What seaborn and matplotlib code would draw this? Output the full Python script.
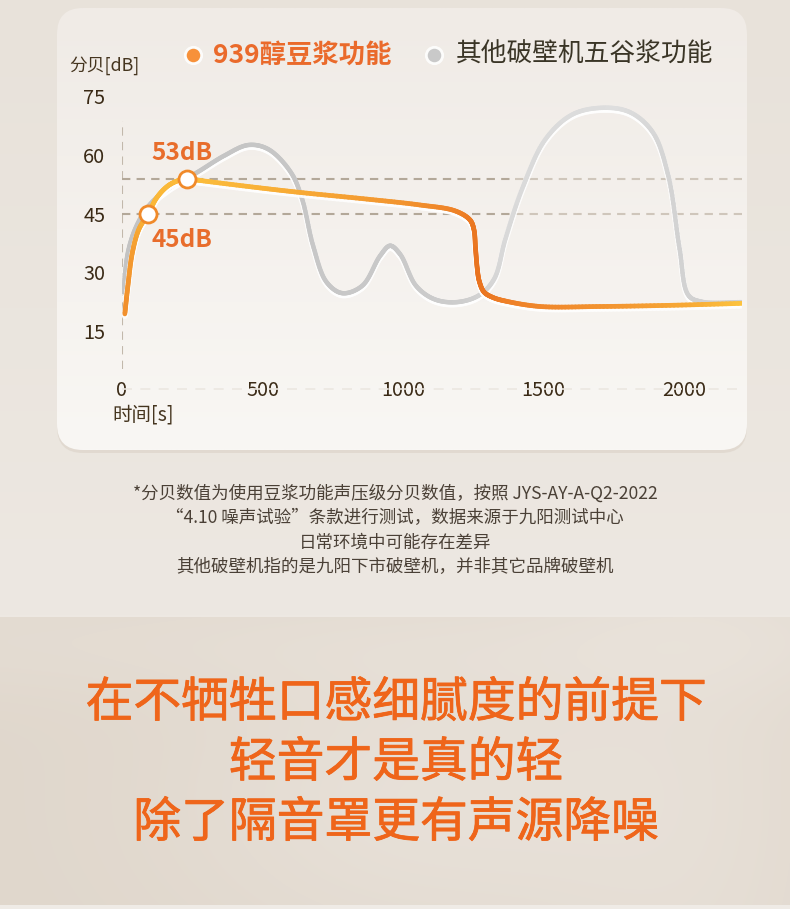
import numpy as np
import matplotlib
matplotlib.use("Agg")
import matplotlib.pyplot as plt
import seaborn as sns
import pandas as pd
from matplotlib.collections import LineCollection
from matplotlib.colors import LinearSegmentedColormap, to_rgb
from matplotlib.patches import FancyBboxPatch
import matplotlib.patheffects as pe

sns.set_theme(style="white")
plt.rcParams['font.family'] = ['Noto Sans CJK SC', 'DejaVu Sans']

# ---------------- data ----------------
series_names = ["939醇豆浆功能", "其他破壁机五谷浆功能"]

time_939 = [10, 21, 37, 60, 92, 124, 164, 203, 232, 283, 474, 633, 871, 1060,
            1185, 1238, 1252, 1258, 1264, 1271, 1288, 1320, 1370, 1488, 1700, 1950, 2207]
db_939 = [19.4, 26.6, 35.1, 41.0, 44.8, 49.1, 52.1, 53.5, 53.9, 53.4, 51.7, 50.4,
          48.7, 47.2, 45.7, 43.4, 41.0, 36.0, 31.0, 27.8, 25.0, 23.6, 22.6, 21.3,
          21.3, 21.6, 22.1]

time_other = [5, 21, 52, 100, 172, 267, 362, 450, 521, 601, 641, 680, 728, 784,
              855, 919, 954, 990, 1046, 1110, 1189, 1269, 1324, 1364, 1428, 1507,
              1603, 1714, 1809, 1889, 1944, 1984, 2016, 2064, 2207]
db_other = [24.9, 35.1, 41.9, 47.4, 51.7, 55.5, 59.7, 62.5, 61.4, 55.5, 48.7, 36.8,
            27.5, 24.7, 26.6, 34.3, 36.8, 34.6, 26.6, 23.2, 22.4, 24.1, 28.3, 38.5,
            52.1, 64.0, 70.3, 72.0, 70.8, 65.7, 54.6, 36.0, 24.1, 22.5, 22.4]

marker_time = [92, 232]
marker_db = [45, 53.8]
marker_labels = ["45dB", "53dB"]

x_ticks = [0, 500, 1000, 1500, 2000]
x_ticklabels = ["0", "500", "1000", "1500", "2000"]
y_ticks = [15, 30, 45, 60, 75]
y_ticklabels = ["15", "30", "45", "60", "75"]
y_label = "分贝[dB]"
x_label = "时间[s]"

footnote_lines = [
    "*分贝数值为使用豆浆功能声压级分贝数值，按照 JYS-AY-A-Q2-2022",
    "“4.10 噪声试验”条款进行测试，数据来源于九阳测试中心",
    "日常环境中可能存在差异",
    "其他破壁机指的是九阳下市破壁机，并非其它品牌破壁机",
]
slogan_lines = ["在不牺牲口感细腻度的前提下", "轻音才是真的轻", "除了隔音罩更有声源降噪"]

# ---------------- helpers ----------------
def hex_rgb(h):
    return np.array(to_rgb(h))

def smooth_path(x, y, sx=0.281, sy=3.92, n=18):
    """centripetal Catmull-Rom through the read points (drawn smooth like the original)"""
    P = np.column_stack([np.asarray(x, float) * sx, np.asarray(y, float) * sy])
    P = np.vstack([2 * P[0] - P[1], P, 2 * P[-1] - P[-2]])
    out = []
    for i in range(1, len(P) - 2):
        p0, p1, p2, p3 = P[i - 1], P[i], P[i + 1], P[i + 2]
        t0 = 0.0
        t1 = t0 + max(np.linalg.norm(p1 - p0), 1e-6) ** 0.5
        t2 = t1 + max(np.linalg.norm(p2 - p1), 1e-6) ** 0.5
        t3 = t2 + max(np.linalg.norm(p3 - p2), 1e-6) ** 0.5
        t = np.linspace(t1, t2, n, endpoint=False)[:, None]
        A1 = (t1 - t) / (t1 - t0) * p0 + (t - t0) / (t1 - t0) * p1
        A2 = (t2 - t) / (t2 - t1) * p1 + (t - t1) / (t2 - t1) * p2
        A3 = (t3 - t) / (t3 - t2) * p2 + (t - t2) / (t3 - t2) * p3
        B1 = (t2 - t) / (t2 - t0) * A1 + (t - t0) / (t2 - t0) * A2
        B2 = (t3 - t) / (t3 - t1) * A2 + (t - t1) / (t3 - t1) * A3
        C = (t2 - t) / (t2 - t1) * B1 + (t - t1) / (t2 - t1) * B2
        out.append(C)
    out.append(P[-2][None])
    Q = np.vstack(out)
    return Q[:, 0] / sx, Q[:, 1] / sy

def gradient_line(ax, xs, ys, cmap, xmax, lw, z, glow=True):
    pts = np.column_stack([xs, ys]).reshape(-1, 1, 2)
    segs = np.concatenate([pts[:-1], pts[1:]], axis=1)
    mids = (xs[:-1] + xs[1:]) / 2 / xmax
    lc = LineCollection(segs, colors=cmap(np.clip(mids, 0, 1)), linewidths=lw,
                        capstyle='round', joinstyle='round', zorder=z)
    if glow:
        lc.set_path_effects([pe.SimpleLineShadow(offset=(0, -1.6), shadow_color='white',
                                                 alpha=0.65, linewidth=lw * 1.3),
                             pe.Normal()])
    ax.add_collection(lc)

# ---------------- figure & background ----------------
W, H = 790, 909
fig = plt.figure(figsize=(W / 100, H / 100), dpi=100)
bg = fig.add_axes([0, 0, 1, 1])
bg.set_xlim(0, W)
bg.set_ylim(H, 0)
bg.axis('off')

img = np.zeros((H, W, 3))
rows = np.arange(H)[:, None]
cols = np.arange(W)[None, :]
top_c = hex_rgb('#e8e2da')
mid_c = hex_rgb('#ede8e2')
tfrac = np.clip(rows / 615.0, 0, 1)[..., None]
img[:] = top_c * (1 - tfrac) + mid_c * tfrac
band = (rows >= 617) & (rows < 905)
band_base = hex_rgb('#e0d7cc')
band_light = hex_rgb('#ece6df')
light = (0.6 * np.exp(-((cols - 430) / 260.0) ** 2) * np.exp(-((rows - 800) / 160.0) ** 2)
         + 0.35 * np.exp(-((cols - 700) / 160.0) ** 2)
         + 0.3 * np.exp(-((rows - 640) / 60.0) ** 2))
light = np.clip(light, 0, 1)[..., None]
band_img = band_base * (1 - light) + band_light * light
img = np.where(band[..., None], band_img, img)
img[905:] = hex_rgb('#efebe6')
bg.imshow(img, extent=(0, W, H, 0), aspect='auto', zorder=0, interpolation='bilinear')

# card shadow + card
shadow = FancyBboxPatch((57, 11), 690, 442, boxstyle="round,pad=0,rounding_size=26",
                        facecolor='#d9d0c5', edgecolor='none', alpha=0.55, zorder=1)
bg.add_patch(shadow)
card = FancyBboxPatch((57, 8), 690, 442, boxstyle="round,pad=0,rounding_size=26",
                      facecolor='none', edgecolor='none', zorder=2)
bg.add_patch(card)
cg = np.linspace(0, 1, 200)[:, None, None]
card_img = hex_rgb('#f0ebe6') * (1 - cg) + hex_rgb('#f9f7f4') * cg
card_img = np.repeat(card_img, 2, axis=1)
ci = bg.imshow(card_img, extent=(57, 747, 450, 8), aspect='auto', zorder=2,
               interpolation='bilinear')
ci.set_clip_path(card)

# ---------------- legend ----------------
bg.scatter([193], [55], s=190, color='white', alpha=0.85, zorder=5, linewidths=0)
bg.scatter([193], [55], s=95, color='#f7913a', zorder=6, linewidths=0)
bg.text(213, 55, series_names[0], color='#ea6a2b', fontsize=19, fontweight='bold',
        va='center', ha='left', zorder=6)
bg.scatter([434], [55], s=190, color='white', alpha=0.85, zorder=5, linewidths=0)
bg.scatter([434], [55], s=95, color='#c9c9c9', zorder=6, linewidths=0)
bg.text(456, 55, series_names[1], color='#3a3526', fontsize=18.5,
        va='center', ha='left', zorder=6)

bg.text(69, 66, y_label, color='#45351f', fontsize=12.8, va='center', ha='left', zorder=6)
bg.text(112, 415, x_label, color='#45351f', fontsize=14, va='center', ha='left', zorder=6)

# ---------------- chart axes ----------------
XMAX = 2206
ax_bottom_px = 390
ax_top_px = 96
ax = fig.add_axes([122 / W, 1 - ax_bottom_px / H, 620 / W, (ax_bottom_px - ax_top_px) / H])
ax.set_facecolor('none')
ax.set_xlim(0, XMAX)
ax.set_ylim(0, 75)
for s in ax.spines.values():
    s.set_visible(False)
ax.axhline(0.3, color='#ece7e1', lw=1.2, dashes=(6, 5), zorder=1)
ax.set_xticks(x_ticks)
ax.set_xticklabels(x_ticklabels)
ax.set_yticks(y_ticks)
ax.set_yticklabels(y_ticklabels)
ax.tick_params(axis='both', length=0, labelsize=14.3, labelcolor='#3a2a16')
ax.tick_params(axis='y', pad=12)
ax.tick_params(axis='x', pad=0)
for lab in ax.get_xticklabels():
    lab.set_verticalalignment('center')
ax.grid(False)

# reference dashed lines
ax.vlines(0, 5.4, 68.6, colors='#c2b8ab', linewidth=1.5, linestyles=(0, (4, 3)), zorder=2)
ax.hlines([marker_db[1], marker_db[0]], 0, 1400, colors='#b3a899', linewidth=1.5,
          linestyles=(0, (4, 3)), zorder=2)
ax.hlines([marker_db[1], marker_db[0]], 1400, XMAX, colors='#cfc6bb', linewidth=1.5,
          linestyles=(0, (4, 3)), zorder=2)

# gray series
gx, gy = smooth_path(time_other, db_other)
gray_cmap = LinearSegmentedColormap.from_list('g', [
    (0.0, '#c3c3c3'), (0.4, '#c8c8c8'), (0.55, '#cdcdcd'), (0.62, '#d9d9d9'),
    (0.8, '#dedede'), (0.9, '#d2d2d2'), (1.0, '#d0d0d0')])
gradient_line(ax, gx, gy, gray_cmap, XMAX, 3.2, 3)

# orange series
ox, oy = smooth_path(time_939, db_939)
orange_cmap = LinearSegmentedColormap.from_list('o', [
    (0.0, '#f08c2c'), (0.04, '#fab637'), (0.12, '#fbbd3c'), (0.3, '#f7a834'),
    (0.45, '#f29530'), (0.55, '#ee8127'), (0.575, '#e9731f'), (0.62, '#ee8028'),
    (0.8, '#f39630'), (0.92, '#f7aa36'), (1.0, '#fcc23e')])
gradient_line(ax, ox, oy, orange_cmap, XMAX, 3.4, 4)

# markers
mk = pd.DataFrame({'t': marker_time, 'db': marker_db})
sns.scatterplot(data=mk, x='t', y='db', ax=ax, s=150, color='white',
                edgecolor='#f08a2a', linewidth=2.0, zorder=6, legend=False)
ax.set_xlabel('')
ax.set_ylabel('')
ax.text(213, marker_db[1] + 6.6, marker_labels[1], color='#e86d2c',
        fontsize=17.5, fontweight='bold', ha='center', va='center', zorder=7)
ax.text(213, marker_db[0] - 6.7, marker_labels[0], color='#e86d2c',
        fontsize=17.5, fontweight='bold', ha='center', va='center', zorder=7)

# ---------------- footnote ----------------
for i, line in enumerate(footnote_lines):
    bg.text(395, 494 + i * 24.5, line, color='#4a4036', fontsize=12.6,
            ha='center', va='center', zorder=6)

# ---------------- slogan ----------------
slogan_color = '#ef651a'
for i, line in enumerate(slogan_lines):
    bg.text(396, 703 + i * 60, line, color=slogan_color, fontsize=34.4,
            ha='center', va='center', zorder=6,
            path_effects=[pe.withStroke(linewidth=0.6, foreground=slogan_color)])

fig.savefig('out.png', dpi=100)
